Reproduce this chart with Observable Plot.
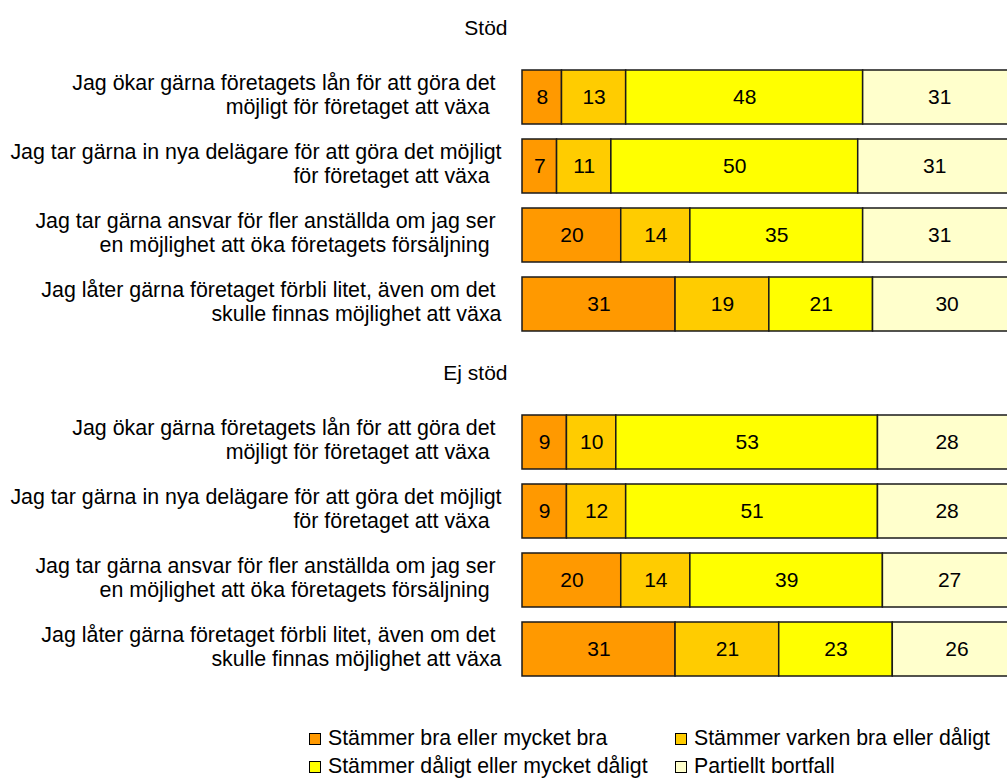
<!DOCTYPE html>
<html>
<head>
<meta charset="utf-8">
<script src="https://cdn.jsdelivr.net/npm/d3@7"></script>
<script src="https://cdn.jsdelivr.net/npm/@observablehq/plot@0.6"></script>
<style>
  html, body { margin: 0; padding: 0; background: #fff; overflow: hidden; }
  body { width: 1007px; height: 779px; font-family: "Liberation Sans", Arial, sans-serif; }
  #chart svg { overflow: hidden; display: block; margin-top: -4px; }
  #legend {
    display: grid;
    grid-template-columns: 366px auto;
    margin-left: 309px;
    padding-top: 28px;
    font-size: 21.3px;
    color: #000;
  }
  .item { display: flex; align-items: center; height: 28px; white-space: nowrap; }
  .sw { width: 12px; height: 12px; box-sizing: border-box; border: 1px solid #000; margin-right: 7px; margin-top: 1px; }
</style>
</head>
<body>
<div id="chart"></div>
<div id="legend"></div>
<script>
const categories = [
  "Stämmer bra eller mycket bra",
  "Stämmer varken bra eller dåligt",
  "Stämmer dåligt eller mycket dåligt",
  "Partiellt bortfall"
];
const colors = ["#FF9900", "#FFCC00", "#FFFF00", "#FFFFCC"];
const groups = ["Stöd", "Ej stöd"];
const statements = [
  "Jag ökar gärna företagets lån för att göra det\u00a0\nmöjligt för företaget att växa\u00a0\u00a0",
  "Jag tar gärna in nya delägare för att göra det möjligt\nför företaget att växa\u00a0\u00a0",
  "Jag tar gärna ansvar för fler anställda om jag ser\u00a0\nen möjlighet att öka företagets försäljning\u00a0\u00a0",
  "Jag låter gärna företaget förbli litet, även om det\u00a0\nskulle finnas möjlighet att växa"
];
const stodValues = [
  [8, 13, 48, 31],
  [7, 11, 50, 31],
  [20, 14, 35, 31],
  [31, 19, 21, 30]
];
const ejStodValues = [
  [9, 10, 53, 28],
  [9, 12, 51, 28],
  [20, 14, 39, 27],
  [31, 21, 23, 26]
];
const legendOrder = [0, 1, 2, 3];

const valuesByGroup = {"Stöd": stodValues, "Ej stöd": ejStodValues};
const data = [];
const domain = [];
for (const g of groups) {
  domain.push(g);
  statements.forEach((s, i) => {
    const key = g + "|" + i;
    domain.push(key);
    valuesByGroup[g][i].forEach((v, j) => {
      data.push({key, cat: categories[j], value: v});
    });
  });
}
const labelFor = k => {
  const p = k.split("|");
  return p.length === 2 ? statements[+p[1]] : "";
};

const chart = Plot.plot({
  width: 1007,
  height: 700,
  marginLeft: 522,
  marginRight: -8.7,
  marginTop: 0,
  marginBottom: 15.7,
  style: {fontFamily: "'Liberation Sans', Arial, sans-serif", fontSize: "21px", color: "#000", background: "#fff"},
  x: {domain: [0, 100], axis: null},
  y: {domain, paddingInner: 0.224, paddingOuter: 0, axis: null},
  color: {domain: categories, range: colors},
  marks: [
    Plot.barX(data, Plot.stackX({x: "value", y: "key", fill: "cat", stroke: "#1a1a1a", strokeWidth: 1.5, inset: 0})),
    Plot.text(data, Plot.stackX({x: "value", y: "key", z: "cat", text: d => String(d.value), fill: "#000", fontSize: 21})),
    Plot.axisY({tickSize: 0, tickPadding: 21, tickFormat: labelFor, fontSize: 21.4, lineHeight: 1.12, dy: -3, label: null, textAnchor: "end"}),
    Plot.text(groups, {y: d => d, text: d => d, frameAnchor: "left", textAnchor: "end", dx: -15, fontSize: 21, fill: "#000"})
  ]
});
document.getElementById("chart").appendChild(chart);

const legend = document.getElementById("legend");
legendOrder.forEach(i => {
  const item = document.createElement("div");
  item.className = "item";
  const sw = document.createElement("span");
  sw.className = "sw";
  sw.style.background = colors[i];
  const t = document.createElement("span");
  t.textContent = categories[i];
  item.appendChild(sw);
  item.appendChild(t);
  legend.appendChild(item);
});
</script>
</body>
</html>
